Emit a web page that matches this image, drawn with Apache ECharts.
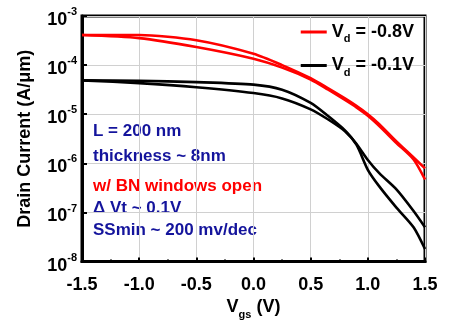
<!DOCTYPE html>
<html>
<head>
<meta charset="utf-8">
<script src="https://cdn.jsdelivr.net/npm/echarts@6/dist/echarts.min.js"></script>
<style>
  html, body { margin: 0; padding: 0; background: #fff; }
  #chart { width: 449px; height: 325px; }
</style>
</head>
<body>
<div id="chart"></div>
<script>
// gate voltage (V)
const vgs = [-1.5, -1.0, -0.5, 0, 0.25, 0.5, 0.65, 0.8, 0.9, 1.0, 1.1, 1.25, 1.4, 1.5]
// Vd = -0.8V, forward and reverse sweep (A/um)
const red08Fwd = [4.1e-4, 4.1e-4, 3.2e-4, 1.7e-4, 1.0e-4, 5.4e-5, 3.4e-5, 2.1e-5, 1.48e-5, 1.0e-5, 6.3e-6, 2.8e-6, 1.32e-6, 7.9e-7]
const red08Rev = [4.1e-4, 3.55e-4, 2.34e-4, 1.35e-4, 8.9e-5, 5.1e-5, 3.2e-5, 1.95e-5, 1.38e-5, 9.3e-6, 5.75e-6, 2.6e-6, 1.2e-6, 4.7e-7]
// Vd = -0.1V, forward and reverse sweep (A/um)
const blk01Fwd = [4.9e-5, 4.8e-5, 4.5e-5, 4.0e-5, 3.16e-5, 1.7e-5, 9.3e-6, 4.7e-6, 2.5e-6, 1.17e-6, 6.3e-7, 2.95e-7, 1.07e-7, 5.0e-8]
const blk01Rev = [4.9e-5, 4.3e-5, 3.55e-5, 2.7e-5, 2.1e-5, 1.26e-5, 7.9e-6, 4.5e-6, 2.4e-6, 7.4e-7, 3.4e-7, 1.26e-7, 5.0e-8, 1.8e-8]
const legendNames = ['Vd = -0.8V', 'Vd = -0.1V']
const notes = ['L = 200 nm', 'thickness ~ 8nm', 'w/ BN windows open', '\u0394 Vt ~ 0.1V', 'SSmin ~ 200 mv/dec']
const noteY = [133, 158, 188, 210, 232]

const FONT = 'Liberation Sans, Arial, sans-serif'
const pairs = (ys) => vgs.map((x, i) => [x, ys[i]])

const makeLine = (name, color, ys) => ({
  name: name,
  type: 'line',
  smooth: 0.25,
  showSymbol: false,
  lineStyle: { color: color, width: 2.6 },
  itemStyle: { color: color },
  data: pairs(ys),
})

const subRich = {
  v: { fontSize: 18, fontWeight: 'bold', color: '#000', fontFamily: FONT, lineHeight: 22 },
  s: { fontSize: 11, fontWeight: 'bold', color: '#000', fontFamily: FONT, padding: [14, 0, 0, 0] },
}

const myChart = echarts.init(document.getElementById('chart'))
myChart.setOption({
  animation: false,
  grid: {
    left: 82, right: 24, top: 16, bottom: 58,
    show: true, borderColor: '#000', borderWidth: 3,
  },
  legend: {
    orient: 'vertical',
    right: 30,
    top: 18,
    itemWidth: 26,
    itemHeight: 3,
    itemGap: 12,
    icon: 'rect',
    data: legendNames,
    formatter: (name) => '{v|V}{s|d}{v|' + name.slice(2) + '}',
    textStyle: { fontFamily: FONT, rich: subRich },
  },
  xAxis: {
    type: 'value',
    min: -1.5,
    max: 1.5,
    interval: 0.5,
    axisLine: { onZero: false, lineStyle: { color: '#000', width: 3 } },
    axisTick: { inside: true, length: 4, lineStyle: { color: '#000', width: 2 } },
    minorTick: { show: true, splitNumber: 2, length: 2, lineStyle: { color: '#000', width: 2 } },
    splitLine: { show: true, lineStyle: { color: '#d0d0d0', width: 1 } },
    axisLabel: {
      margin: 14,
      color: '#000',
      fontSize: 18,
      fontWeight: 'bold',
      fontFamily: FONT,
      formatter: (v) => v.toFixed(1),
    },
    name: '{v|V}{s|gs}{v| (V)}',
    nameLocation: 'middle',
    nameGap: 32,
    nameTextStyle: { rich: subRich },
  },
  yAxis: {
    type: 'log',
    logBase: 10,
    min: 1e-8,
    max: 1e-3,
    axisLine: { onZero: false, lineStyle: { color: '#000', width: 3 } },
    axisTick: { inside: true, length: 5, lineStyle: { color: '#000', width: 2 } },
    splitLine: { show: true, lineStyle: { color: '#d0d0d0', width: 1 } },
    axisLabel: {
      margin: 5,
      formatter: (v) => '{b|10}{e|' + Math.round(Math.log10(v)) + '}',
      rich: {
        b: { fontSize: 18, fontWeight: 'bold', color: '#000', fontFamily: FONT, lineHeight: 20, padding: [8, 0, 0, 0] },
        e: { fontSize: 11, fontWeight: 'bold', color: '#000', fontFamily: FONT, padding: [0, 0, 8, 0] },
      },
    },
    name: 'Drain Current (A/\u03bcm)',
    nameLocation: 'middle',
    nameGap: 48,
    nameTextStyle: { fontSize: 18, fontWeight: 'bold', color: '#000', fontFamily: FONT },
  },
  graphic: notes.map((t, i) => ({
    type: 'text',
    left: 93,
    top: noteY[i] - 10,
    style: {
      text: t,
      fill: i === 2 ? '#ff0000' : '#14149c',
      font: 'bold 17px ' + FONT,
    },
  })),
  series: [
    makeLine(legendNames[0], '#ff0000', red08Fwd),
    makeLine(legendNames[0], '#ff0000', red08Rev),
    makeLine(legendNames[1], '#000000', blk01Fwd),
    makeLine(legendNames[1], '#000000', blk01Rev),
  ],
})
</script>
</body>
</html>
